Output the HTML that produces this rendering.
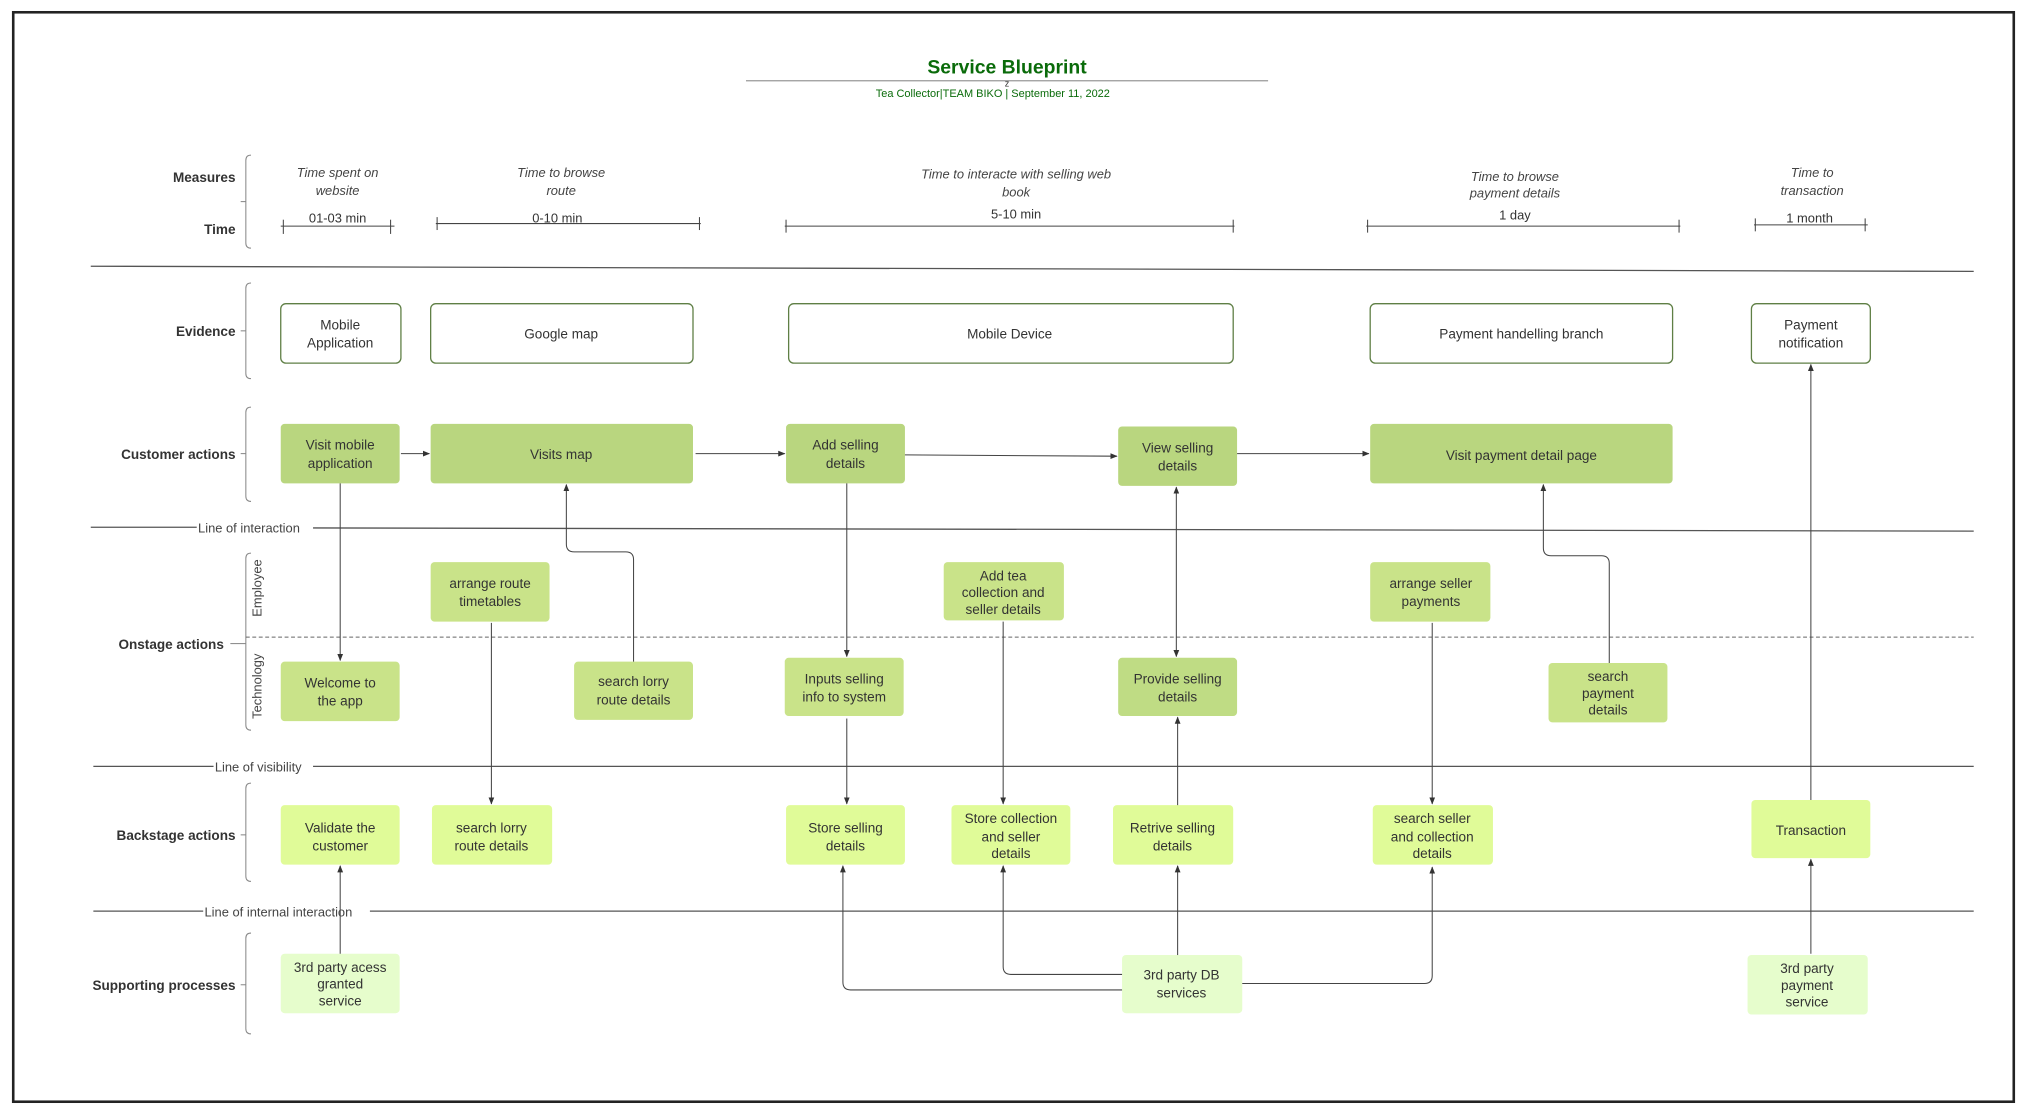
<!DOCTYPE html>
<html><head><meta charset="utf-8"><style>
html,body{margin:0;padding:0;background:#fff;}
svg{display:block;}
text{font-family:"Liberation Sans",sans-serif;}
</style></head><body>
<svg width="2027" height="1114" viewBox="0 0 1568 862" xmlns="http://www.w3.org/2000/svg">
<defs>
<marker id="a" viewBox="0 0 10 10" refX="9" refY="5" markerWidth="7" markerHeight="7" orient="auto-start-reverse"><path d="M0,1 L10,5 L0,9 z" fill="#333"/></marker>
</defs>
<rect x="10" y="9.5" width="1548" height="843" fill="#fff" stroke="#222" stroke-width="2"/>

<!-- title -->
<text x="779" y="57" text-anchor="middle" font-size="15" font-weight="bold" fill="#0a6b0a">Service Blueprint</text>
<line x1="577" y1="62.5" x2="981" y2="62.5" stroke="#999" stroke-width="1"/>
<text x="779" y="67" text-anchor="middle" font-size="7" fill="#333">z</text>
<text x="768" y="75" text-anchor="middle" font-size="8.5" fill="#0a6b0a">Tea Collector|TEAM BIKO | September 11, 2022</text>

<!-- row labels -->
<g font-size="10.5" font-weight="bold" fill="#333" text-anchor="end">
<text x="182" y="141">Measures</text>
<text x="182" y="181">Time</text>
<text x="182" y="260">Evidence</text>
<text x="182" y="355">Customer actions</text>
<text x="173" y="502">Onstage actions</text>
<text x="182" y="650">Backstage actions</text>
<text x="182" y="766">Supporting processes</text>
</g>
<!-- braces -->
<g fill="none" stroke="#888" stroke-width="0.8">
<path d="M194,120 Q190,120 190,124 V188 Q190,192 194,192"/><line x1="186" y1="156" x2="190" y2="156"/>
<path d="M194,219 Q190,219 190,223 V289 Q190,293 194,293"/><line x1="186" y1="256" x2="190" y2="256"/>
<path d="M194,315 Q190,315 190,319 V384 Q190,388 194,388"/><line x1="186" y1="351" x2="190" y2="351"/>
<path d="M194,428 Q190,428 190,432 V561 Q190,565 194,565"/><line x1="178" y1="498" x2="190" y2="498"/>
<path d="M194,606 Q190,606 190,610 V678 Q190,682 194,682"/><line x1="186" y1="646" x2="190" y2="646"/>
<path d="M194,722 Q190,722 190,726 V796 Q190,800 194,800"/><line x1="186" y1="762" x2="190" y2="762"/>
</g>

<!-- measures -->
<g font-size="10" font-style="italic" fill="#444" text-anchor="middle">
<text x="261" y="137">Time spent on</text><text x="261" y="151">website</text>
<text x="434" y="137">Time to browse</text><text x="434" y="151">route</text>
<text x="786" y="138">Time to interacte with selling web</text><text x="786" y="152">book</text>
<text x="1172" y="140">Time to browse</text><text x="1172" y="153">payment details</text>
<text x="1402" y="137">Time to</text><text x="1402" y="151">transaction</text>
</g>
<g font-size="10" fill="#333" text-anchor="middle">
<text x="261" y="172">01-03 min</text>
<text x="431" y="172">0-10 min</text>
<text x="786" y="169">5-10 min</text>
<text x="1172" y="170">1 day</text>
<text x="1400" y="172">1 month</text>
</g>
<g stroke="#444" stroke-width="0.8">
<line x1="217" y1="175" x2="305" y2="175"/><line x1="219" y1="170" x2="219" y2="181"/><line x1="302" y1="170" x2="302" y2="181"/>
<line x1="337" y1="173" x2="542" y2="173"/><line x1="338" y1="168" x2="338" y2="178"/><line x1="541" y1="168" x2="541" y2="178"/>
<line x1="607" y1="175" x2="955" y2="175"/><line x1="608" y1="170" x2="608" y2="180"/><line x1="954" y1="170" x2="954" y2="180"/>
<line x1="1057" y1="175" x2="1300" y2="175"/><line x1="1058" y1="170" x2="1058" y2="180"/><line x1="1299" y1="170" x2="1299" y2="180"/>
<line x1="1357" y1="174" x2="1445" y2="174"/><line x1="1358" y1="169" x2="1358" y2="179"/><line x1="1443" y1="169" x2="1443" y2="179"/>
</g>

<!-- separator lines -->
<g stroke="#555" stroke-width="1">
<line x1="70" y1="206" x2="1527" y2="210"/>
<line x1="70" y1="408" x2="152" y2="408"/><line x1="242" y1="408.5" x2="1527" y2="411"/>
<line x1="72" y1="593" x2="165" y2="593"/><line x1="242" y1="593" x2="1527" y2="593"/>
<line x1="72" y1="705" x2="157" y2="705"/><line x1="286" y1="705" x2="1527" y2="705"/>
</g>
<line x1="190" y1="493" x2="1527" y2="493" stroke="#666" stroke-width="0.8" stroke-dasharray="3,2"/>
<g font-size="10" fill="#444">
<text x="153" y="412">Line of interaction</text>
<text x="166" y="597">Line of visibility</text>
<text x="158" y="709">Line of internal interaction</text>
</g>
<g font-size="10" fill="#444" text-anchor="middle">
<text transform="translate(202,455) rotate(-90)">Employee</text>
<text transform="translate(202,531) rotate(-90)">Technology</text>
</g>

<!-- evidence -->
<g fill="#fff" stroke="#5f7f45" stroke-width="1">
<rect x="217" y="235" width="93" height="46" rx="4"/>
<rect x="333" y="235" width="203" height="46" rx="4"/>
<rect x="610" y="235" width="344" height="46" rx="4"/>
<rect x="1060" y="235" width="234" height="46" rx="4"/>
<rect x="1355" y="235" width="92" height="46" rx="4"/>
</g>

<!-- customer -->
<g fill="#b9d67f">
<rect x="217" y="328" width="92" height="46" rx="3"/>
<rect x="333" y="328" width="203" height="46" rx="3"/>
<rect x="608" y="328" width="92" height="46" rx="3"/>
<rect x="865" y="330" width="92" height="46" rx="3"/>
<rect x="1060" y="328" width="234" height="46" rx="3"/>
</g>
<!-- onstage -->
<g fill="#c9e389">
<rect x="333" y="435" width="92" height="46" rx="3"/>
<rect x="730" y="435" width="93" height="45" rx="3"/>
<rect x="1060" y="435" width="93" height="46" rx="3"/>
<rect x="217" y="512" width="92" height="46" rx="3"/>
<rect x="444" y="512" width="92" height="45" rx="3"/>
<rect x="607" y="509" width="92" height="45" rx="3"/>
<rect x="1198" y="513" width="92" height="46" rx="3"/>
</g>
<rect x="865" y="509" width="92" height="45" rx="3" fill="#bfdc84"/>
<!-- backstage -->
<g fill="#e0fb98">
<rect x="217" y="623" width="92" height="46" rx="3"/>
<rect x="334" y="623" width="93" height="46" rx="3"/>
<rect x="608" y="623" width="92" height="46" rx="3"/>
<rect x="736" y="623" width="92" height="46" rx="3"/>
<rect x="861" y="623" width="93" height="46" rx="3"/>
<rect x="1062" y="623" width="93" height="46" rx="3"/>
<rect x="1355" y="619" width="92" height="45" rx="3"/>
</g>
<!-- supporting -->
<g fill="#e6fdcc">
<rect x="217" y="738" width="92" height="46" rx="3"/>
<rect x="868" y="739" width="93" height="45" rx="3"/>
<rect x="1352" y="739" width="93" height="46" rx="3"/>
</g>

<!-- node text -->
<g font-size="10.5" fill="#333" text-anchor="middle">
<text x="263" y="255">Mobile</text><text x="263" y="269">Application</text>
<text x="434" y="262">Google map</text>
<text x="781" y="262">Mobile Device</text>
<text x="1177" y="262">Payment handelling branch</text>
<text x="1401" y="255">Payment</text><text x="1401" y="269">notification</text>

<text x="263" y="348">Visit mobile</text><text x="263" y="362">application</text>
<text x="434" y="355">Visits map</text>
<text x="654" y="348">Add selling</text><text x="654" y="362">details</text>
<text x="911" y="350">View selling</text><text x="911" y="364">details</text>
<text x="1177" y="356">Visit payment detail page</text>

<text x="379" y="455">arrange route</text><text x="379" y="469">timetables</text>
<text x="776" y="449">Add tea</text><text x="776" y="462">collection and</text><text x="776" y="475">seller details</text>
<text x="1107" y="455">arrange seller</text><text x="1107" y="469">payments</text>
<text x="263" y="532">Welcome to</text><text x="263" y="546">the app</text>
<text x="490" y="531">search lorry</text><text x="490" y="545">route details</text>
<text x="653" y="529">Inputs selling</text><text x="653" y="543">info to system</text>
<text x="911" y="529">Provide selling</text><text x="911" y="543">details</text>
<text x="1244" y="527">search</text><text x="1244" y="540">payment</text><text x="1244" y="553">details</text>

<text x="263" y="644">Validate the</text><text x="263" y="658">customer</text>
<text x="380" y="644">search lorry</text><text x="380" y="658">route details</text>
<text x="654" y="644">Store selling</text><text x="654" y="658">details</text>
<text x="782" y="637">Store collection</text><text x="782" y="651">and seller</text><text x="782" y="664">details</text>
<text x="907" y="644">Retrive selling</text><text x="907" y="658">details</text>
<text x="1108" y="637">search seller</text><text x="1108" y="651">and collection</text><text x="1108" y="664">details</text>
<text x="1401" y="646">Transaction</text>

<text x="263" y="752">3rd party acess</text><text x="263" y="765">granted</text><text x="263" y="778">service</text>
<text x="914" y="758">3rd party DB</text><text x="914" y="772">services</text>
<text x="1398" y="753">3rd party</text><text x="1398" y="766">payment</text><text x="1398" y="779">service</text>
</g>

<!-- connectors -->
<g fill="none" stroke="#444" stroke-width="0.8" marker-end="url(#a)">
<line x1="310" y1="351" x2="332" y2="351"/>
<line x1="538" y1="351" x2="607" y2="351"/>
<line x1="700" y1="352" x2="864" y2="353"/>
<line x1="957" y1="351" x2="1059" y2="351"/>
<line x1="263" y1="374" x2="263" y2="511"/>
<path d="M490,512 V433 Q490,427 484,427 H444 Q438,427 438,421 V375"/>
<line x1="380" y1="482" x2="380" y2="622"/>
<line x1="655" y1="374" x2="655" y2="508"/>
<line x1="655" y1="556" x2="655" y2="622"/>
<line x1="776" y1="481" x2="776" y2="622"/>
<line x1="910" y1="508" x2="910" y2="377" marker-start="url(#a)"/>
<line x1="911" y1="623" x2="911" y2="555"/>
<line x1="1108" y1="482" x2="1108" y2="622"/>
<path d="M1245,513 V436 Q1245,430 1239,430 H1200 Q1194,430 1194,424 V375"/>
<line x1="1401" y1="619" x2="1401" y2="282"/>
<line x1="1401" y1="738" x2="1401" y2="665"/>
<line x1="263" y1="738" x2="263" y2="670"/>
<line x1="911" y1="739" x2="911" y2="670"/>
<path d="M868,754 H782 Q776,754 776,748 V670"/>
<path d="M868,766 H658 Q652,766 652,760 V670"/>
<path d="M961,761 H1102 Q1108,761 1108,755 V671"/>
</g>
</svg>
</body></html>
